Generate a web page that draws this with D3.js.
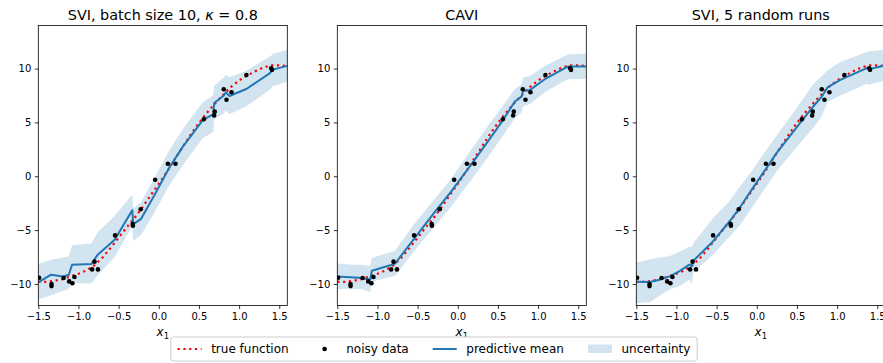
<!DOCTYPE html>
<html><head><meta charset="utf-8">
<script src="https://cdn.jsdelivr.net/npm/d3@7"></script>
<style>body{margin:0;background:#fff}svg{display:block;font-family:"DejaVu Sans",sans-serif}</style>
</head><body><svg id="c" width="883" height="363"></svg>
<script>
// ---- data ----
const xTicks = [-1.5, -1.0, -0.5, 0.0, 0.5, 1.0, 1.5];
const yTicks = [-10, -5, 0, 5, 10];
const titles = [
  [["SVI, batch size 10, ", false], ["κ", true], [" = 0.8", false]],
  [["CAVI", false]],
  [["SVI, 5 random runs", false]]
];
const legendLabels = ["true function", "noisy data", "predictive mean", "uncertainty"];

const trueX = [-1.5,-1.4,-1.3,-1.2,-1.1,-1.0,-0.9,-0.8,-0.7,-0.6,-0.5,-0.4,-0.3,-0.2,-0.1,0.0,0.1,0.2,0.3,0.4,0.5,0.6,0.7,0.8,0.9,1.0,1.1,1.2,1.3,1.4,1.5,1.6];
const trueY = [-9.8,-9.8,-9.7,-9.55,-9.3,-9.05,-8.75,-8.25,-7.55,-6.65,-5.7,-4.75,-3.85,-2.85,-1.75,-0.7,0.4,1.6,2.75,3.9,4.95,5.9,6.75,7.55,8.3,8.9,9.35,9.75,10.1,10.3,10.3,10.25];

const dataX = [-1.49,-1.335,-1.335,-1.185,-1.115,-1.075,-1.05,-0.83,-0.80,-0.757,-0.544,-0.325,-0.322,-0.225,-0.045,0.113,0.208,0.561,0.689,0.697,0.809,0.843,0.905,1.091,1.40,1.41];
const dataY = [-9.42,-10.0,-10.2,-9.45,-9.76,-9.94,-9.35,-8.65,-7.93,-8.65,-5.49,-4.44,-4.6,-3.06,-0.32,1.16,1.16,5.3,5.64,6.0,8.08,7.1,7.8,9.4,10.03,9.88];

// SVI, batch size 10
const sviBatchX    = [-1.5,-1.34,-1.19,-1.12,-1.08,-0.84,-0.76,-0.55,-0.33,-0.318,-0.22,-0.05,0.13,0.30,0.55,0.677,0.69,0.81,0.835,0.88,1.09,1.38,1.42,1.6];
const sviBatchMean = [-9.85,-9.14,-9.3,-9.14,-8.21,-8.15,-7.28,-5.89,-3.15,-4.45,-3.95,-1.7,0.8,2.75,5.24,5.75,6.8,7.5,7.8,7.45,8.1,9.55,9.9,10.25];
const sviBatchHi   = [-8.15,-7.75,-7.55,-7.45,-6.4,-6.25,-5.2,-3.7,-1.7,-3.0,-2.4,-0.1,2.4,4.4,6.9,7.5,8.4,9.2,9.4,9.2,9.8,11.1,11.35,11.75];
const sviBatchLo   = [-11.45,-11.05,-10.65,-10.45,-9.9,-9.95,-9.2,-7.5,-4.65,-6.0,-5.45,-3.3,-0.85,1.05,3.55,4.1,5.3,5.8,6.1,5.75,6.5,8.0,8.35,8.8];

// CAVI
const caviX    = [-1.5,-1.34,-1.19,-1.09,-1.07,-0.82,-0.78,-0.55,-0.30,-0.09,0.15,0.36,0.565,0.71,0.793,0.814,0.90,1.10,1.37,1.6];
const caviMean = [-9.3,-9.38,-9.45,-9.6,-8.77,-8.21,-8.1,-5.85,-3.45,-1.5,0.91,3.07,5.24,6.94,7.4,7.95,8.02,9.1,10.19,10.19];
const caviHi   = [-8.1,-8.2,-8.25,-8.3,-7.6,-7.0,-6.9,-4.5,-2.2,-0.3,2.3,4.5,6.6,8.1,8.5,9.2,9.3,10.3,11.3,11.4];
const caviLo   = [-10.5,-10.45,-10.5,-10.75,-9.8,-9.3,-9.25,-7.0,-4.75,-2.9,-0.5,1.6,3.8,5.4,5.9,6.5,6.7,7.9,9.0,9.05];

// SVI, 5 random runs
const sviRunsX    = [-1.5,-1.33,-1.21,-1.085,-0.96,-0.84,-0.81,-0.79,-0.546,-0.339,-0.215,-0.05,0.16,0.25,0.54,0.705,0.81,0.88,1.04,1.37,1.40,1.6];
const sviRunsMean = [-9.8,-9.82,-9.6,-9.3,-8.8,-8.2,-8.35,-7.85,-6.05,-4.2,-2.95,-1.1,1.2,2.2,4.95,6.5,7.4,8.25,8.95,10.05,9.95,10.3];
const sviRunsHi   = [-8.0,-7.7,-7.55,-7.4,-7.0,-6.55,-6.6,-6.2,-3.9,-2.3,-1.0,0.6,2.9,3.8,6.8,8.6,9.3,9.85,10.6,11.55,11.6,11.75];
const sviRunsLo   = [-11.8,-11.7,-11.1,-10.5,-10.2,-9.6,-10.0,-8.9,-7.3,-5.6,-4.6,-2.8,-0.5,0.5,3.1,4.5,5.6,6.9,7.5,8.6,8.5,8.9];

const panels = [
  {title: titles[0], x: sviBatchX, mean: sviBatchMean, lo: sviBatchLo, hi: sviBatchHi},
  {title: titles[1], x: caviX, mean: caviMean, lo: caviLo, hi: caviHi},
  {title: titles[2], x: sviRunsX, mean: sviRunsMean, lo: sviRunsLo, hi: sviRunsHi}
];

// ---- layout ----
const lefts = [38.3, 337.3, 636.3];
const W = 249, T = 25.5, B = 305.5;
const BLUE = "#1f77b4";
const svg = d3.select("#c");
const defs = svg.append("defs");
const minus = s => s.replace("-", "\u2212");

panels.forEach((p, i) => {
  const L = lefts[i];
  const x = d3.scaleLinear().domain([-1.5, 1.6]).range([L, L + W]);
  const y = d3.scaleLinear().domain([-12, 14]).range([B, T]);
  defs.append("clipPath").attr("id", "clip" + i).append("rect")
    .attr("x", L).attr("y", T).attr("width", W).attr("height", B - T);
  const g = svg.append("g");
  const gp = g.append("g").attr("clip-path", `url(#clip${i})`);
  const idx = d3.range(p.x.length);
  gp.append("path").datum(idx)
    .attr("d", d3.area().x(j => x(p.x[j])).y0(j => y(p.lo[j])).y1(j => y(p.hi[j])))
    .attr("fill", BLUE).attr("fill-opacity", 0.2).attr("stroke", "none");
  gp.append("path").datum(d3.range(trueX.length))
    .attr("d", d3.line().x(j => x(trueX[j])).y(j => y(trueY[j])))
    .attr("fill", "none").attr("stroke", "red").attr("stroke-width", 2.2)
    .attr("stroke-dasharray", "2.2 3.6");
  gp.append("path").datum(idx)
    .attr("d", d3.line().x(j => x(p.x[j])).y(j => y(p.mean[j])))
    .attr("fill", "none").attr("stroke", BLUE).attr("stroke-width", 2)
    .attr("stroke-linejoin", "round");
  gp.selectAll("circle").data(d3.range(dataX.length)).join("circle")
    .attr("cx", j => x(dataX[j])).attr("cy", j => y(dataY[j])).attr("r", 2.3)
    .attr("fill", "black");

  // axes
  const ax = g.append("g").attr("transform", `translate(0,${B})`)
    .call(d3.axisBottom(x).tickValues(xTicks).tickSize(3.5).tickPadding(3.5)
      .tickFormat(d => minus(d3.format(".1f")(d))));
  const ay = g.append("g").attr("transform", `translate(${L},0)`)
    .call(d3.axisLeft(y).tickValues(yTicks).tickSize(3.5).tickPadding(3.5)
      .tickFormat(d => minus(String(d))));
  [ax, ay].forEach(a => {
    a.select(".domain").remove();
    a.selectAll("line").attr("stroke", "#000").attr("stroke-width", 0.8);
    a.selectAll("text").attr("fill", "#000").style("font-size", "10px")
      .style("font-family", '"DejaVu Sans", sans-serif');
  });
  g.append("rect").attr("x", L).attr("y", T).attr("width", W).attr("height", B - T)
    .attr("fill", "none").attr("stroke", "#000").attr("stroke-width", 0.8);

  // title
  const t = g.append("text").attr("x", L + W / 2).attr("y", 20)
    .attr("text-anchor", "middle").style("font-size", "14.4px").attr("fill", "#000");
  p.title.forEach(([s, it]) => t.append("tspan").text(s).style("font-style", it ? "italic" : "normal"));

  // x label
  const xl = g.append("text").attr("x", L + W / 2).attr("y", 336)
    .attr("text-anchor", "middle").style("font-size", "12px").attr("fill", "#000");
  xl.append("tspan").text("x").style("font-style", "italic");
  xl.append("tspan").text("1").style("font-size", "8.5px").attr("dy", 2.5);
});

// ---- legend ----
const lg = svg.append("g");
const frame = lg.append("rect");
const fs = 12, hl = 24, htp = 9.6, cs = 24, bp = 4.8;
const items = [];
let cx = 0;
legendLabels.forEach((lab, k) => {
  const it = lg.append("g");
  const tx = it.append("text").text(lab).attr("x", hl + htp).attr("y", 0)
    .style("font-size", fs + "px").attr("fill", "#000");
  const w = tx.node().getComputedTextLength();
  if (k === 0) it.append("line").attr("x1", 0).attr("x2", hl).attr("y1", -4).attr("y2", -4)
    .attr("stroke", "red").attr("stroke-width", 2.2).attr("stroke-dasharray", "2.2 3.6");
  if (k === 1) it.append("circle").attr("cx", hl / 2).attr("cy", -4).attr("r", 2.3).attr("fill", "black");
  if (k === 2) it.append("line").attr("x1", 0).attr("x2", hl).attr("y1", -4).attr("y2", -4)
    .attr("stroke", BLUE).attr("stroke-width", 2);
  if (k === 3) it.append("rect").attr("x", 0).attr("y", -8.5).attr("width", hl).attr("height", 8.5)
    .attr("fill", BLUE).attr("fill-opacity", 0.2);
  items.push({it, x: cx});
  cx += hl + htp + w + (k < legendLabels.length - 1 ? cs : 0);
});
const totalW = cx + 2 * bp + 4;
const lx0 = 434 - totalW / 2;
items.forEach(d => d.it.attr("transform", `translate(${lx0 + bp + 2 + d.x},353)`));
frame.attr("x", lx0).attr("y", 337).attr("width", totalW).attr("height", 24).attr("rx", 3)
  .attr("fill", "#fff").attr("stroke", "#cccccc").attr("stroke-width", 1);
</script></body></html>
